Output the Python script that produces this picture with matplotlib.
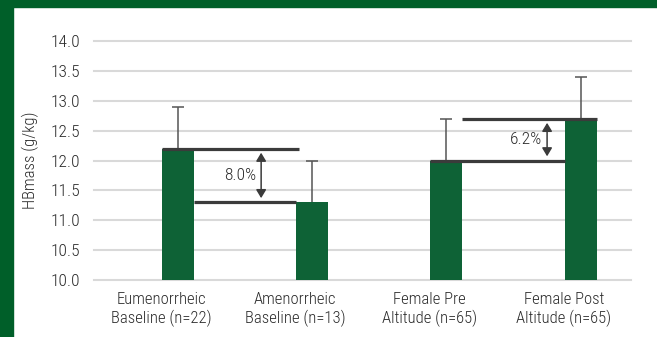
import numpy as np
import matplotlib
matplotlib.use("Agg")
import matplotlib.pyplot as plt
from matplotlib.patches import Rectangle

# группы и значения HBmass
groups = ["Eumenorrheic\nBaseline (n=22)", "Amenorrheic\nBaseline (n=13)",
          "Female Pre\nAltitude (n=65)", "Female Post\nAltitude (n=65)"]
hbmass = [12.2, 11.3, 12.0, 12.7]
sd = [0.7, 0.7, 0.7, 0.7]
y_ticks = [10.0, 10.5, 11.0, 11.5, 12.0, 12.5, 13.0, 13.5, 14.0]

# пары для разницы в процентах: (левый, правый, подпись)
diffs = [(0, 1, "8.0%"), (2, 3, "6.2%")]

plt.rcParams['font.family'] = ['Roboto Condensed', 'Liberation Sans', 'DejaVu Sans']
plt.rcParams['font.weight'] = 'light'
plt.rcParams['axes.labelweight'] = 'light'

green = "#005f29"
bar_color = "#0e6236"
dark = "#3b3b3b"
txt = "#2b2b2b"

fig = plt.figure(figsize=(6.57, 3.37), dpi=100)
fig.patch.set_facecolor("white")
# зелёная рамка сверху и слева
fig.add_artist(Rectangle((0, 1 - 7 / 337), 1, 7 / 337, transform=fig.transFigure,
                         color=green, zorder=0))
fig.add_artist(Rectangle((0, 0), 13 / 657, 1, transform=fig.transFigure,
                         color=green, zorder=0))

ax = fig.add_axes([94 / 657, 57 / 337, 537 / 657, 239 / 337])

x = np.arange(len(groups))
off = 0.125
w = 0.238
xb = x + off

for t in y_ticks:
    ax.axhline(t, color="#d9d9d9", lw=1.5, zorder=1, clip_on=False)

ax.bar(xb, hbmass, width=w, color=bar_color, zorder=2)
eb = ax.errorbar(xb, hbmass, yerr=[np.zeros(len(sd)), sd], fmt="none",
                 ecolor="#555555", elinewidth=1.1, capsize=4, capthick=1.1, zorder=3)
# нижние засечки не нужны
eb[1][0].set_visible(False)

for i, j, label in diffs:
    hi = max(hbmass[i], hbmass[j])
    lo = min(hbmass[i], hbmass[j])
    if hbmass[i] > hbmass[j]:
        # верхняя линия от левого края первого столбца, нижняя от правого края
        ax.plot([xb[i] - w / 2, xb[j] - w / 2 + 0.02], [hi, hi], color=dark, lw=2.3,
                zorder=4, solid_capstyle="butt")
        ax.plot([xb[i] + w / 2, xb[j] - w / 2], [lo, lo], color=dark, lw=2.3,
                zorder=4, solid_capstyle="butt")
        xa = xb[i] + 0.62
    else:
        ax.plot([xb[i] + w / 2, xb[j] + w / 2], [hi, hi], color=dark, lw=2.3,
                zorder=4, solid_capstyle="butt")
        ax.plot([xb[i] - w / 2, xb[j] - w / 2], [lo, lo], color=dark, lw=2.3,
                zorder=4, solid_capstyle="butt")
        xa = xb[j] - 0.25
    ax.annotate("", xy=(xa, lo), xytext=(xa, hi),
                arrowprops=dict(arrowstyle="<|-|>,head_length=0.5,head_width=0.3",
                                color=dark, lw=1.1, shrinkA=3, shrinkB=3), zorder=5)
    ax.text(xa - 0.035, (hi + lo) / 2, label, ha="right", va="center",
            fontsize=12.5, color=txt, zorder=5)

ax.set_xlim(-0.5, len(groups) - 0.5)
ax.set_ylim(10, 14)
ax.set_yticks(y_ticks)
ax.set_yticklabels([f"{t:.1f}" for t in y_ticks], fontsize=12.5, color=txt)
ax.set_xticks(x)
ax.set_xticklabels(groups, fontsize=12, color=txt, linespacing=1.2)
ax.tick_params(axis="both", length=0)
ax.tick_params(axis="y", pad=10)
ax.tick_params(axis="x", pad=9)
ax.set_ylabel("HBmass (g/kg)", fontsize=12, color=txt, labelpad=8, fontweight="light")
for s in ax.spines.values():
    s.set_visible(False)

fig.savefig("out.png", dpi=100)
